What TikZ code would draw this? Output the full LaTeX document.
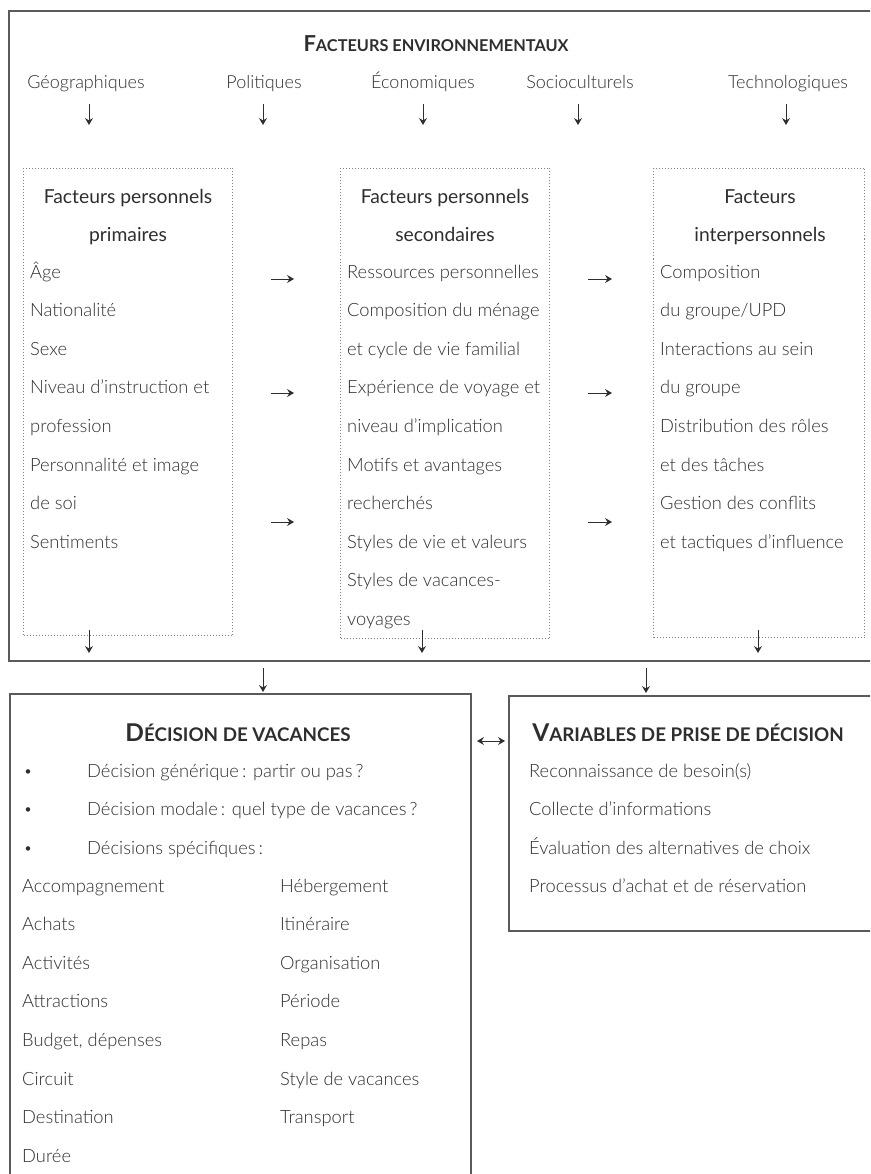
\documentclass[tikz,border=0pt]{standalone}
\usepackage{fontspec}
\setmainfont{Lato}
\newfontfamily\lightf{Lato Light}
\usetikzlibrary{arrows.meta}
\definecolor{txt}{HTML}{2E2E2E}
\definecolor{ln}{HTML}{5A5A5A}
\definecolor{dotc}{HTML}{808080}
\newcommand\mysc[4]{{\fontsize{#1}{24}\selectfont #3}{\fontsize{#2}{20}\selectfont #4}}
\tikzset{
 item/.style={anchor=base west, inner sep=0pt, font=\lightf\fontsize{18.3}{20}\selectfont, text=txt},
 head/.style={anchor=base, inner sep=0pt, font=\fontsize{19.3}{20}\selectfont, text=txt},
 envlab/.style={anchor=base, inner sep=0pt, font=\lightf\fontsize{18}{20}\selectfont, text=txt},
 ttl/.style={anchor=base, inner sep=0pt, font=\bfseries, text=txt},
 solidbox/.style={draw=ln, line width=1.3pt},
 dotbox/.style={draw=dotc, dotted, line width=1pt, inner sep=0pt, anchor=north west},
 arr/.style={draw=txt, line width=0.8pt, -{Stealth[length=7pt,width=8pt,inset=2.5pt]}},
 darr/.style={draw=txt, line width=0.8pt, {Stealth[length=7pt,width=8pt,inset=2.5pt]}-{Stealth[length=7pt,width=8pt,inset=2.5pt]}},
}
\begin{document}
\begin{tikzpicture}[x=1pt,y=-1pt]
\useasboundingbox (0,0) rectangle (870,1174);
\clip (0,0) rectangle (870,1174);
% outer boxes
\draw[solidbox] (885,11) -- (9,11) -- (9,661) -- (885,661);
\draw[solidbox] (10,1190) -- (10,694) -- (471,694) -- (471,1190);
\draw[solidbox] (885,696) -- (509,696) -- (509,931) -- (885,931);
% title
\node[ttl] (envt) at (436,52) {\mysc{22}{16.3}{F}{ACTEURS ENVIRONNEMENTAUX}};
% environmental labels
\node[envlab] (geo) at (86,89) {Géographiques};
\node[envlab] (pol) at (264,89) {Politiques};
\node[envlab] (eco) at (423,89) {Économiques};
\node[envlab] (soc) at (580,89) {Socioculturels};
\node[envlab] (tec) at (788,89) {Technologiques};
\foreach \n/\x in {a/89,b/263,c/423,d/578,e/786}{
  \coordinate (s\n) at (\x,104);
  \coordinate (t\n) at (\x,125);
  \draw[arr] (s\n) -- (t\n);
}
% dotted boxes
\node[dotbox, minimum width=209pt, minimum height=467pt] (p1) at (23,168) {};
\node[dotbox, minimum width=209pt, minimum height=470pt] (p2) at (340,168) {};
\node[dotbox, minimum width=211pt, minimum height=469pt] (p3) at (653,168) {};
% headings
\node[head] (h1a) at (128,204) {Facteurs personnels};
\node[head] (h1b) at (128,241) {primaires};
\node[head] (h2a) at (445,204) {Facteurs personnels};
\node[head] (h2b) at (445,241) {secondaires};
\node[head] (h3a) at (760,204) {Facteurs};
\node[head] (h3b) at (760,241) {interpersonnels};
% lists
\foreach [count=\i from 0] \t in {Âge,Nationalité,Sexe,Niveau d’instruction et,profession,Personnalité et image,de soi,Sentiments}
  \node[item] (l1-\i) at (30,278+38.6*\i) {\t};
\foreach [count=\i from 0] \t in {Ressources personnelles,Composition du ménage,et cycle de vie familial,Expérience de voyage et,niveau d’implication,Motifs et avantages,recherchés,Styles de vie et valeurs,Styles de vacances-,voyages}
  \node[item] (l2-\i) at (347,278+38.6*\i) {\t};
\foreach [count=\i from 0] \t in {Composition,du groupe/UPD,Interactions au sein,du groupe,Distribution des rôles,et des tâches,Gestion des conflits,et tactiques d’influence}
  \node[item] (l3-\i) at (660,278+38.6*\i) {\t};
% horizontal arrows
\foreach \n/\y in {1/279,2/393,3/522}{
  \coordinate (ha\n) at (271,\y); \coordinate (hb\n) at (294,\y);
  \draw[arr] (ha\n) -- (hb\n);
  \coordinate (hc\n) at (588,\y); \coordinate (hd\n) at (612,\y);
  \draw[arr] (hc\n) -- (hd\n);
}
% arrows below dotted boxes
\foreach \n/\x in {1/89,2/422,3/758}{
  \coordinate (da\n) at (\x,630); \coordinate (db\n) at (\x,653);
  \draw[arr] (da\n) -- (db\n);
}
% arrows to lower boxes
\coordinate (la) at (263,668); \coordinate (lb) at (263,692);
\draw[arr] (la) -- (lb);
\coordinate (ra) at (646,668); \coordinate (rb) at (646,693);
\draw[arr] (ra) -- (rb);
% double arrow
\coordinate (dl) at (477,741); \coordinate (dr) at (505,741);
\draw[darr] (dl) -- (dr);
% decision box
\node[ttl] (dect) at (238,741) {\mysc{24.5}{18.8}{D}{ÉCISION DE VACANCES}};
\foreach [count=\i from 0] \t in {{Décision générique\,: partir ou pas\,?},{Décision modale\,: quel type de vacances\,?},{Décisions spécifiques\,:}}{
  \node[item] (bu-\i) at (87,777+38.6*\i) {\t};
  \node[anchor=base, inner sep=0pt, text=txt, font=\fontsize{12}{14}\selectfont] (bd-\i) at (28,775+38.6*\i) {\textbullet};
}
\foreach [count=\i from 0] \t in {Accompagnement,Achats,Activités,Attractions,{Budget, dépenses},Circuit,Destination,Durée}
  \node[item] (c1-\i) at (22,892+38.6*\i) {\t};
\foreach [count=\i from 0] \t in {Hébergement,Itinéraire,Organisation,Période,Repas,Style de vacances,Transport}
  \node[item] (c2-\i) at (280,892+38.6*\i) {\t};
% variables box
\node[ttl] (vart) at (688,741) {\mysc{24.5}{18.8}{V}{ARIABLES DE PRISE DE DÉCISION}};
\foreach [count=\i from 0] \t in {Reconnaissance de besoin(s),Collecte d’informations,Évaluation des alternatives de choix,Processus d’achat et de réservation}
  \node[item] (v-\i) at (529,777+38.6*\i) {\t};
\end{tikzpicture}
\end{document}
